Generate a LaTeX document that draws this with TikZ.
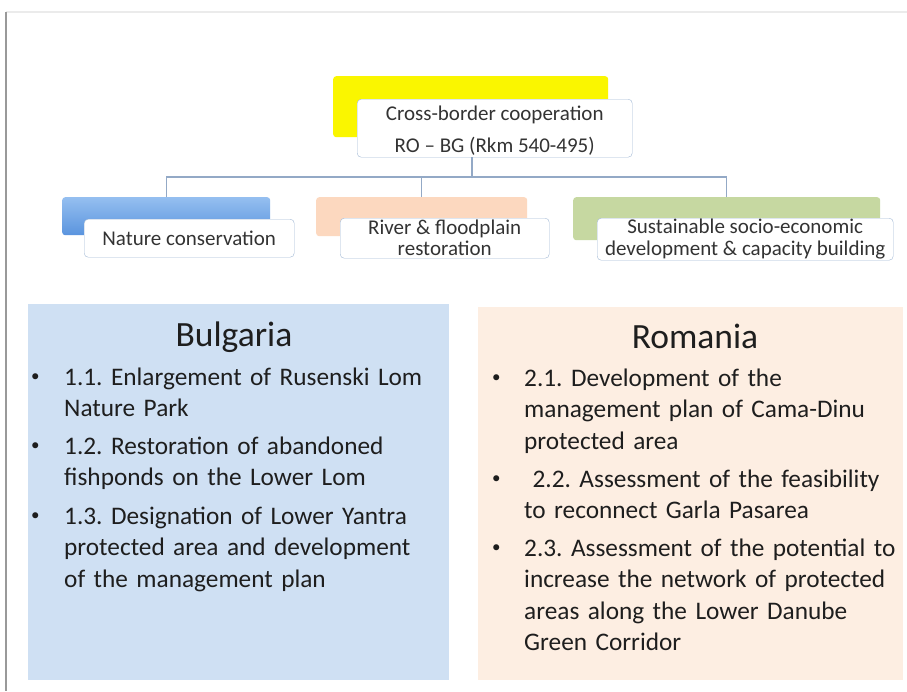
\documentclass[tikz,border=0pt]{standalone}
\usepackage{fontspec}
\setmainfont{Carlito}
\usetikzlibrary{positioning}
\definecolor{linkgray}{HTML}{93A9C6}
\definecolor{boxedge}{HTML}{A3BAD6}
\definecolor{boxtext}{HTML}{333333}
\definecolor{bodytext}{HTML}{1E1E1E}
\definecolor{natblue}{HTML}{5A94DE}
\definecolor{natbluetop}{HTML}{95BFF0}
\definecolor{rivorange}{HTML}{FCD8BF}
\definecolor{susgreen}{HTML}{C6D8A1}
\definecolor{cbyellow}{HTML}{FAF600}
\definecolor{bgpanelfill}{HTML}{CFE0F3}
\definecolor{ropanelfill}{HTML}{FDEEE2}
\tikzset{
  backbox/.style={rounded corners=3pt,anchor=north west,inner sep=0pt},
  labelbox/.style={draw=boxedge,fill=white,rounded corners=4pt,anchor=north west,
    align=center,inner sep=0pt,text=boxtext},
  link/.style={draw=linkgray,line width=1.3pt},
  panel/.style={anchor=north west,inner sep=0pt},
  paneltitle/.style={anchor=base,inner sep=0pt,font=\fontsize{35.5}{40}\selectfont,text=bodytext},
  itemtext/.style={anchor=base west,inner sep=0pt,text width=400pt,align=left,
    font=\fontsize{25.3}{31.5}\selectfont\frenchspacing,text=bodytext},
  bulletmark/.style={anchor=base west,inner sep=0pt,font=\fontsize{17}{20}\selectfont,text=bodytext}
}
\begin{document}
\begin{tikzpicture}[x=1pt,y=-1pt]
  \useasboundingbox[fill=white] (0,0) rectangle (907,691);
  % slide frame
  \draw[black!8,line width=2pt] (6,12) -- (907,12);
  \draw[black!40,line width=2pt] (6,12) -- (6,691);
  % top of the tree
  \node[backbox,fill=cbyellow,minimum width=275pt,minimum height=61pt] (cbback) at (333,76) {};
  \node[labelbox,minimum width=275pt,minimum height=58pt,font=\fontsize{21}{32}\selectfont] (cbbox) at (357,99)
    {\rule{0pt}{20pt}Cross-border cooperation\\RO -- BG (Rkm 540-495)};
  % three themes
  \node[backbox,top color=natbluetop,bottom color=natblue,minimum width=208pt,minimum height=38pt] (natback) at (62,197) {};
  \node[labelbox,minimum width=210pt,minimum height=38pt,font=\fontsize{21}{21}\selectfont] (natbox) at (84,219)
    {Nature conservation};
  \node[backbox,fill=rivorange,minimum width=211pt,minimum height=39pt] (rivback) at (316,197) {};
  \node[labelbox,minimum width=209pt,minimum height=40pt,font=\fontsize{21}{21}\selectfont] (rivbox) at (340,218)
    {River \& floodplain\\restoration};
  \node[backbox,fill=susgreen,minimum width=307pt,minimum height=43pt] (susback) at (573,197) {};
  \node[labelbox,minimum width=296pt,minimum height=42pt,font=\fontsize{21}{22}\selectfont] (susbox) at (597,218)
    {Sustainable socio-economic\\development \& capacity building};
  % connectors
  \coordinate (hub) at (472,177);
  \draw[link] (cbbox.south -| hub) -- (hub);
  \draw[link] (natback.north) |- (hub) -| (susback.north);
  \draw[link] (rivback.north) -- (rivback.north |- hub);
  % country panels
  \node[panel,fill=bgpanelfill,minimum width=421pt,minimum height=376pt] (bgpanel) at (28,304) {};
  \node[panel,fill=ropanelfill,minimum width=425pt,minimum height=373pt] (ropanel) at (478,307) {};
  \node[paneltitle] (bgtitle) at (234,346) {Bulgaria};
  \node[paneltitle] (rotitle) at (695,348) {Romania};
  % Bulgaria items
  \node[itemtext] (bg1) at (64,385) {1.1. Enlargement of Rusenski Lom\\Nature Park};
  \node[itemtext] (bg2) at (64,454) {1.2. Restoration of abandoned\\fishponds on the Lower Lom};
  \node[itemtext] (bg3) at (64,524) {1.3. Designation of Lower Yantra\\protected area and development\\of the management plan};
  \node[bulletmark] at ([xshift=-33pt,yshift=4pt]bg1.base west) {\textbullet};
  \node[bulletmark] at ([xshift=-33pt,yshift=4pt]bg2.base west) {\textbullet};
  \node[bulletmark] at ([xshift=-33pt,yshift=4pt]bg3.base west) {\textbullet};
  % Romania items
  \node[itemtext] (ro1) at (524,386) {2.1. Development of the\\management plan of Cama-Dinu\\protected area};
  \node[itemtext] (ro2) at (524,487) {~2.2. Assessment of the feasibility\\to reconnect Garla Pasarea};
  \node[itemtext] (ro3) at (524,556) {2.3. Assessment of the potential to\\increase the network of protected\\areas along the Lower Danube\\Green Corridor};
  \node[bulletmark] at ([xshift=-32pt,yshift=4pt]ro1.base west) {\textbullet};
  \node[bulletmark] at ([xshift=-32pt,yshift=4pt]ro2.base west) {\textbullet};
  \node[bulletmark] at ([xshift=-32pt,yshift=4pt]ro3.base west) {\textbullet};
\end{tikzpicture}
\end{document}
